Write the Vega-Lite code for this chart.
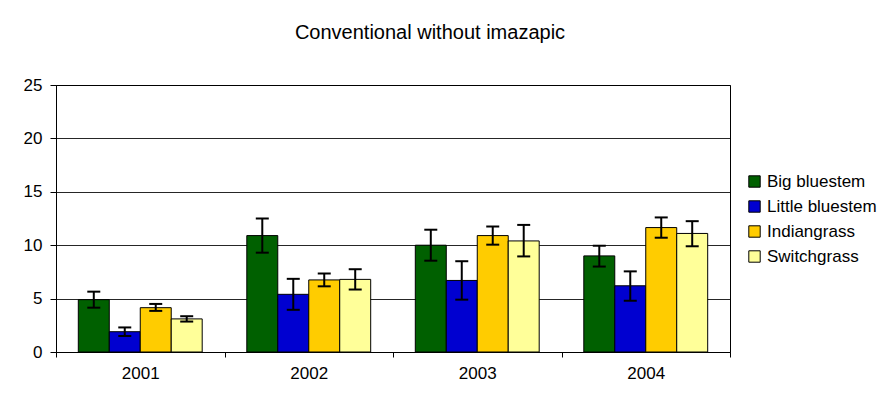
{
  "$schema": "https://vega.github.io/schema/vega-lite/v6.json",
  "autosize": "none",
  "width": 674,
  "height": 267,
  "padding": {"left": 56, "top": 85, "right": 156, "bottom": 54},
  "background": "white",
  "title": {"text": "Conventional without imazapic", "anchor": "middle", "frame": "group", "dx": 37, "offset": 33, "font": "Liberation Sans", "fontSize": 20, "fontWeight": "normal", "color": "#000"},
  "config": {
    "view": {"stroke": "#000", "strokeWidth": 1},
    "font": "Liberation Sans"
  },
  "data": {"values": [
    {"year": "2001", "species": "Big bluestem", "value": 4.9, "lo": 4.15, "hi": 5.65},
    {"year": "2001", "species": "Little bluestem", "value": 1.9, "lo": 1.5, "hi": 2.3},
    {"year": "2001", "species": "Indiangrass", "value": 4.15, "lo": 3.85, "hi": 4.5},
    {"year": "2001", "species": "Switchgrass", "value": 3.1, "lo": 2.85, "hi": 3.35},
    {"year": "2002", "species": "Big bluestem", "value": 10.9, "lo": 9.3, "hi": 12.5},
    {"year": "2002", "species": "Little bluestem", "value": 5.4, "lo": 3.95, "hi": 6.85},
    {"year": "2002", "species": "Indiangrass", "value": 6.75, "lo": 6.15, "hi": 7.35},
    {"year": "2002", "species": "Switchgrass", "value": 6.8, "lo": 5.85, "hi": 7.75},
    {"year": "2003", "species": "Big bluestem", "value": 10.0, "lo": 8.55, "hi": 11.45},
    {"year": "2003", "species": "Little bluestem", "value": 6.7, "lo": 4.9, "hi": 8.5},
    {"year": "2003", "species": "Indiangrass", "value": 10.9, "lo": 10.05, "hi": 11.75},
    {"year": "2003", "species": "Switchgrass", "value": 10.4, "lo": 8.95, "hi": 11.9},
    {"year": "2004", "species": "Big bluestem", "value": 9.0, "lo": 8.0, "hi": 9.95},
    {"year": "2004", "species": "Little bluestem", "value": 6.2, "lo": 4.8, "hi": 7.55},
    {"year": "2004", "species": "Indiangrass", "value": 11.65, "lo": 10.7, "hi": 12.6},
    {"year": "2004", "species": "Switchgrass", "value": 11.1, "lo": 9.9, "hi": 12.25}
  ]},
  "encoding": {
    "x": {"field": "year", "type": "nominal", "title": null,
      "scale": {"paddingInner": 0, "paddingOuter": 0},
      "axis": {"labelAngle": 0, "labelFontSize": 17, "labelColor": "#000", "domainColor": "#000", "tickColor": "#000", "tickBand": "extent", "tickSize": 5, "labelPadding": 8}},
    "xOffset": {"field": "species", "type": "nominal",
      "sort": ["Big bluestem", "Little bluestem", "Indiangrass", "Switchgrass"],
      "scale": {"paddingInner": 0, "paddingOuter": 0.72}}
  },
  "layer": [
    {
      "mark": {"type": "bar", "stroke": "#000", "strokeWidth": 1},
      "encoding": {
        "y": {"field": "value", "type": "quantitative", "title": null,
          "scale": {"domain": [0, 25], "nice": false},
          "axis": {"values": [0, 5, 10, 15, 20, 25], "labelFontSize": 17, "labelColor": "#000", "grid": true, "gridColor": "#000", "gridOpacity": 0.85, "domainColor": "#000", "tickColor": "#000", "tickSize": 6, "labelPadding": 8}},
        "color": {"field": "species", "type": "nominal",
          "sort": ["Big bluestem", "Little bluestem", "Indiangrass", "Switchgrass"],
          "scale": {"domain": ["Big bluestem", "Little bluestem", "Indiangrass", "Switchgrass"], "range": ["#006000", "#0000d0", "#ffcc00", "#ffff99"]},
          "legend": {"title": null, "orient": "none", "legendX": 690, "legendY": 88, "symbolType": "square", "symbolSize": 130, "symbolStrokeColor": "#000", "symbolStrokeWidth": 1, "symbolOpacity": 1, "labelFontSize": 17, "labelColor": "#000", "rowPadding": 7, "labelOffset": 4}}
      }
    },
    {
      "mark": {"type": "rule", "stroke": "#000", "strokeWidth": 2},
      "encoding": {
        "y": {"field": "lo", "type": "quantitative"},
        "y2": {"field": "hi"}
      }
    },
    {
      "mark": {"type": "tick", "color": "#000", "thickness": 2, "size": 13, "opacity": 1},
      "encoding": {"y": {"field": "lo", "type": "quantitative"}}
    },
    {
      "mark": {"type": "tick", "color": "#000", "thickness": 2, "size": 13, "opacity": 1},
      "encoding": {"y": {"field": "hi", "type": "quantitative"}}
    }
  ]
}
